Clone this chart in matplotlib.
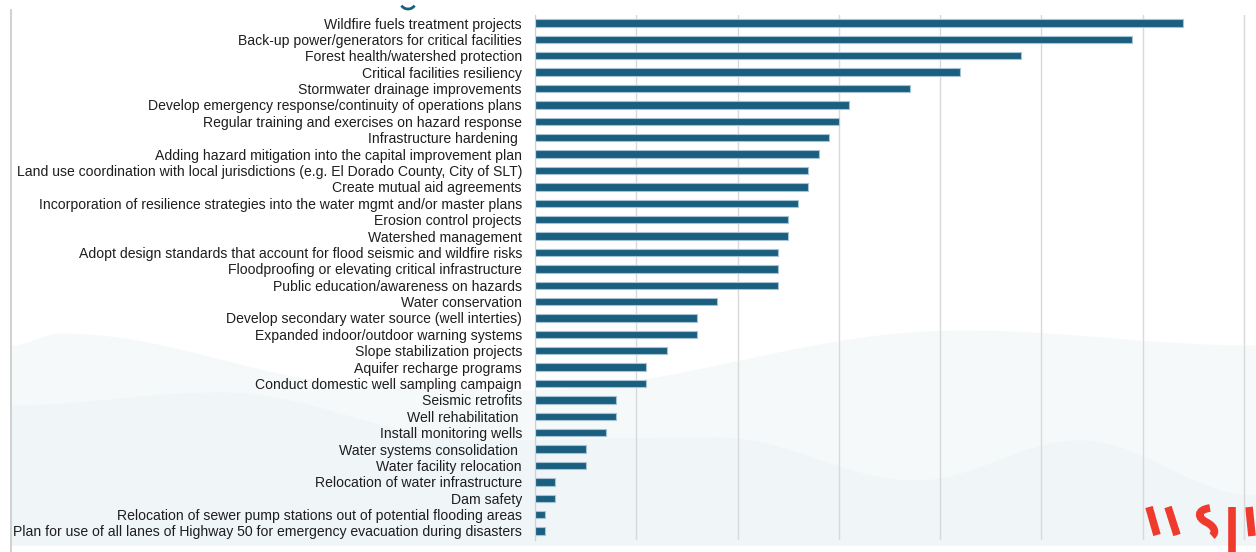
import matplotlib
matplotlib.use('Agg')
import matplotlib.pyplot as plt
import numpy as np
from matplotlib.patches import Arc, PathPatch
from matplotlib.path import Path

# mitigation actions, in the order they are listed (top to bottom)
actions = [
    "Wildfire fuels treatment projects",
    "Back-up power/generators for critical facilities",
    "Forest health/watershed protection",
    "Critical facilities resiliency",
    "Stormwater drainage improvements",
    "Develop emergency response/continuity of operations plans",
    "Regular training and exercises on hazard response",
    "Infrastructure hardening ",
    "Adding hazard mitigation into the capital improvement plan",
    "Land use coordination with local jurisdictions (e.g. El Dorado County, City of SLT)",
    "Create mutual aid agreements",
    "Incorporation of resilience strategies into the water mgmt and/or master plans",
    "Erosion control projects",
    "Watershed management",
    "Adopt design standards that account for flood seismic and wildfire risks",
    "Floodproofing or elevating critical infrastructure",
    "Public education/awareness on hazards",
    "Water conservation",
    "Develop secondary water source (well interties)",
    "Expanded indoor/outdoor warning systems",
    "Slope stabilization projects",
    "Aquifer recharge programs",
    "Conduct domestic well sampling campaign",
    "Seismic retrofits",
    "Well rehabilitation ",
    "Install monitoring wells",
    "Water systems consolidation ",
    "Water facility relocation",
    "Relocation of water infrastructure",
    "Dam safety",
    "Relocation of sewer pump stations out of potential flooding areas",
    "Plan for use of all lanes of Highway 50 for emergency evacuation during disasters",
]
votes = [64, 59, 48, 42, 37, 31, 30, 29, 28, 27, 27, 26, 25, 25, 24, 24, 24,
         18, 16, 16, 13, 11, 11, 8, 8, 7, 5, 5, 2, 2, 1, 1]
grid_ticks = [0, 10, 20, 30, 40, 50, 60, 70]

BAR = '#1a5f80'
RED = '#ef3b2d'
W, H = 1256, 552

fig = plt.figure(figsize=(W / 100, H / 100), dpi=100)

# background layer in pixel units: slide border, soft waves, logo
bg = fig.add_axes([0, 0, 1, 1], zorder=0)
bg.set_xlim(0, W)
bg.set_ylim(H, 0)
bg.axis('off')


def wave(pts, x):
    px, py = zip(*pts)
    out = np.zeros_like(x)
    for i in range(len(px) - 1):
        m = (x >= px[i]) & (x <= px[i + 1])
        t = (x[m] - px[i]) / (px[i + 1] - px[i])
        s = (1 - np.cos(np.pi * t)) / 2
        out[m] = py[i] + (py[i + 1] - py[i]) * s
    return out


xs = np.linspace(11, W, 600)
top_wave = wave([(11, 345), (60, 333), (380, 385), (520, 390), (960, 330), (W, 345)], xs)
low_wave = wave([(11, 405), (220, 392), (480, 440), (717, 437), (916, 480),
                 (1079, 440), (W, 495)], xs)
bg.fill_between(xs, top_wave, 545, color='#f6f9fa', lw=0)
bg.fill_between(xs, low_wave, 545, color='#f0f5f8', lw=0)
bg.plot([10.5, 10.5], [10, H], color='#d0d0d0', lw=1.4)

# cut-off heading glyph at the top
bg.add_patch(Arc((408, 1), 16, 16, theta1=35, theta2=145, color=BAR, lw=2))

# logo
bg.plot([1149, 1157], [507, 535], color=RED, lw=5.5, solid_capstyle='butt')
bg.plot([1168, 1177], [507, 535], color=RED, lw=5.5, solid_capstyle='butt')
s_path = Path([(1210, 508), (1196, 510), (1198, 518), (1206, 522),
               (1214, 526), (1217, 532), (1212, 536)],
              [Path.MOVETO, Path.CURVE4, Path.CURVE4, Path.CURVE4,
               Path.CURVE4, Path.CURVE4, Path.CURVE4])
bg.add_patch(PathPatch(s_path, fill=False, edgecolor=RED, lw=5.5, capstyle='butt'))
bg.plot([1231.5, 1231.5], [507, H], color=RED, lw=5.5, solid_capstyle='butt')
bg.plot([1249, 1252], [507, 536], color=RED, lw=5.5, solid_capstyle='butt')

# bar chart
ax = fig.add_axes([535 / W, 1 - 540 / H, (W - 535) / W, (540 - 15) / H], zorder=1)
ax.patch.set_alpha(0)
y = np.arange(len(actions))
ax.barh(y, votes, height=0.45, color=BAR, edgecolor='#a7c2d2', linewidth=0.8)
ax.set_xlim(0, 71.2)
ax.set_ylim(len(actions) - 0.45, -0.49)
ax.set_xticks(grid_ticks)
ax.xaxis.grid(True, color='#d9d9d9', lw=1)
ax.set_axisbelow(True)
ax.tick_params(axis='x', length=0, labelbottom=False)
ax.tick_params(axis='y', length=0, pad=9.4)
ax.set_yticks(y)
ax.set_yticklabels(actions, fontsize=10.1, family='Liberation Sans', color='#1e1e1e')
for side in ['top', 'right', 'bottom']:
    ax.spines[side].set_visible(False)
ax.spines['left'].set_color('#d0d0d0')

fig.savefig('out.png', dpi=100)
